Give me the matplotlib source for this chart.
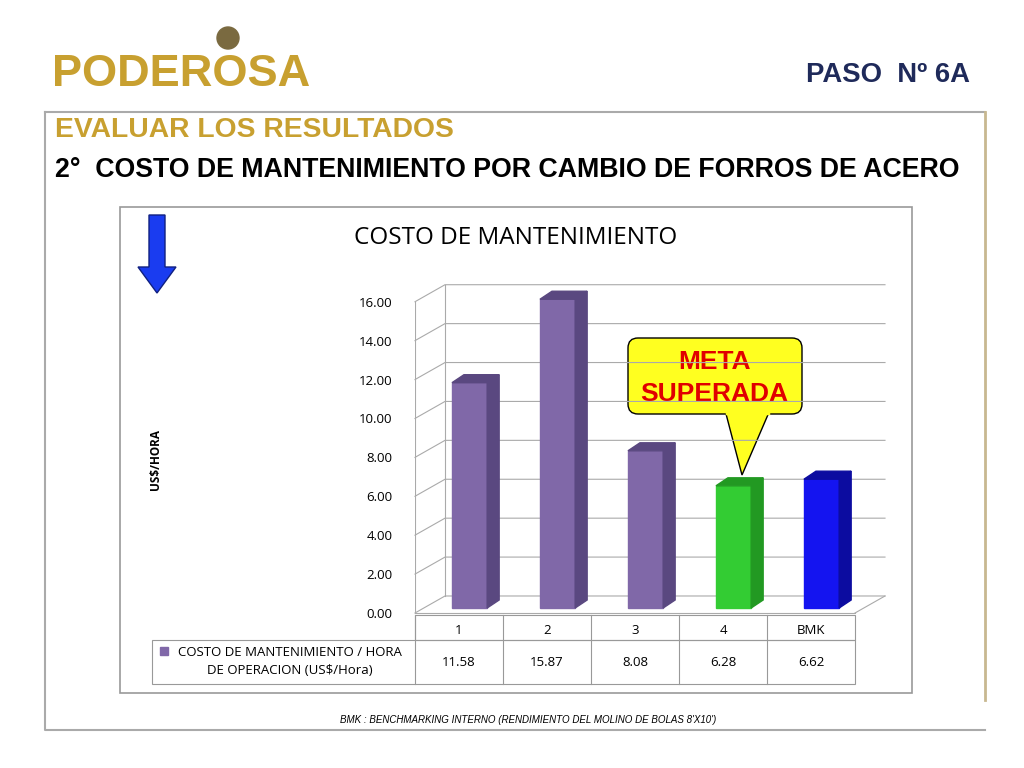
import matplotlib
matplotlib.use("Agg")
import matplotlib.pyplot as plt
from matplotlib.patches import Polygon, Rectangle, FancyBboxPatch, FancyArrow

categories = ["1", "2", "3", "4", "BMK"]
values = [11.58, 15.87, 8.08, 6.28, 6.62]
value_labels = ["11.58", "15.87", "8.08", "6.28", "6.62"]
yticks = [0, 2, 4, 6, 8, 10, 12, 14, 16]
series_name = "COSTO DE MANTENIMIENTO / HORA\nDE OPERACION (US$/Hora)"
colors = ["#8068a8", "#8068a8", "#8068a8", "#33cc33", "#1414f0"]
side_colors = ["#5a4880", "#5a4880", "#5a4880", "#229922", "#0c0ca0"]

AR = "Liberation Sans"
CF = "Open Sans"

fig = plt.figure(figsize=(10.24, 7.68), dpi=100)
bg = fig.add_axes([0, 0, 1, 1])
bg.set_xlim(0, 1024); bg.set_ylim(768, 0); bg.axis("off")

bg.text(52, 75, "PODEROSA", fontsize=32.5, fontweight="bold", color="#c8a030", va="center", family=AR)
bg.add_patch(plt.Circle((228, 38), 11, color="#7a6a40"))
bg.text(970, 75, "PASO  Nº 6A", fontsize=19.8, fontweight="bold", color="#1f2a5a", ha="right", va="center", family=AR)
bg.plot([45, 985], [112, 112], color="#aaaaaa", lw=1.5)
bg.plot([45, 45, 985], [112, 730, 730], color="#aaaaaa", lw=1.5)
bg.plot([985, 985], [112, 700], color="#c8b890", lw=2)
bg.text(55, 130, "EVALUAR LOS RESULTADOS", fontsize=20.3, fontweight="bold", color="#c8a030", va="center", family=AR)
bg.text(55, 170, "2°  COSTO DE MANTENIMIENTO POR CAMBIO DE FORROS DE ACERO", fontsize=19.3, fontweight="bold", color="black", va="center", family=AR)
bg.text(528, 720, "BMK : BENCHMARKING INTERNO (RENDIMIENTO DEL MOLINO DE BOLAS 8'X10')", fontsize=7, style="italic", ha="center", va="center", family=AR)
bg.add_patch(Rectangle((120, 207), 792, 486, fill=False, ec="#999999", lw=1.2))
bg.text(516, 238, "COSTO DE MANTENIMIENTO", fontsize=17.5, ha="center", va="center", family=CF)
bg.text(155, 460, "US$/HORA", fontsize=8.5, fontweight="bold", rotation=90, ha="center", va="center", family=CF)
bg.add_patch(FancyArrow(157, 215, 0, 78, width=16, head_width=38, head_length=26,
                        length_includes_head=True, color="#1a3cf0", ec="#102080"))

x0, x1 = 415, 855
cw = (x1 - x0) / 5
bg.add_patch(Rectangle((x0, 615), x1 - x0, 25, fill=False, ec="#999999", lw=0.8))
bg.add_patch(Rectangle((152, 640), x1 - 152, 44, fill=False, ec="#999999", lw=0.8))
bg.plot([x0, x0], [615, 684], color="#999999", lw=0.8)
for i, (c, v) in enumerate(zip(categories, value_labels)):
    cx = x0 + cw * (i + 0.5)
    bg.text(cx, 630, c, fontsize=9.5, ha="center", va="center", family=CF)
    bg.text(cx, 662, v, fontsize=9.5, ha="center", va="center", family=CF)
    if i > 0:
        bg.plot([x0 + cw * i] * 2, [615, 684], color="#999999", lw=0.8)
bg.add_patch(Rectangle((160, 647), 8, 8, color="#8068a8"))
bg.text(290, 662, series_name, fontsize=9.5, ha="center", va="center", linespacing=1.5, family=CF)

ymax = 16.5
ax = fig.add_axes([x0 / 1024, 1 - 613 / 768, (x1 - x0) / 1024, (613 - 292) / 768])
ax.set_xlim(0, 5); ax.set_ylim(0, ymax)
ax.patch.set_alpha(0)
for s in ax.spines.values():
    s.set_visible(False)
ax.set_xticks([])
ax.set_yticks(yticks)
ax.set_yticklabels([f"{t:.2f}" for t in yticks], fontsize=9.5, family=CF)
ax.tick_params(axis="y", length=0, pad=16)
dx, dy = 30 / 88, 17 / 19.44
for t in yticks:
    ax.plot([0, dx, 5 + dx], [t, t + dy, t + dy], color="#aaaaaa", lw=0.8, clip_on=False)
ax.plot([0, 0], [0, 16], color="#aaaaaa", lw=0.8)
ax.plot([dx, dx], [dy, 16 + dy], color="#aaaaaa", lw=0.8, clip_on=False)
ax.plot([5, 5 + dx], [0, dy], color="#aaaaaa", lw=0.8, clip_on=False)
ax.plot([0, 5], [0, 0], color="#aaaaaa", lw=0.8, clip_on=False)
bw = 0.4
ox, oy = 12 / 88, 8 / 19.44
base = 5 / 19.44
for i, v in enumerate(values):
    l = i + 0.5 - bw / 2 + 0.12
    ax.add_patch(Rectangle((l, base), bw, v, color=colors[i], zorder=3))
    ax.add_patch(Polygon([(l + bw, base), (l + bw + ox, base + oy), (l + bw + ox, base + v + oy), (l + bw, base + v)],
                         closed=True, color=side_colors[i], zorder=3, clip_on=False))
    ax.add_patch(Polygon([(l, base + v), (l + ox, base + v + oy), (l + bw + ox, base + v + oy), (l + bw, base + v)],
                         closed=True, color=side_colors[i], zorder=3, clip_on=False))

bg.add_patch(Polygon([(725, 410), (770, 410), (742, 475)], closed=True, fc="#ffff20", ec="black", lw=1))
bg.add_patch(FancyBboxPatch((628, 338), 174, 76, boxstyle="round,pad=0,rounding_size=10",
                            fc="#ffff20", ec="black", lw=1))
bg.plot([727, 768], [413, 413], color="#ffff20", lw=2.5)
bg.text(714, 378, "META\nSUPERADA", fontsize=19, fontweight="bold", color="#e00000", ha="center", va="center", linespacing=1.4, family=AR)

fig.savefig("out.png", dpi=100)
